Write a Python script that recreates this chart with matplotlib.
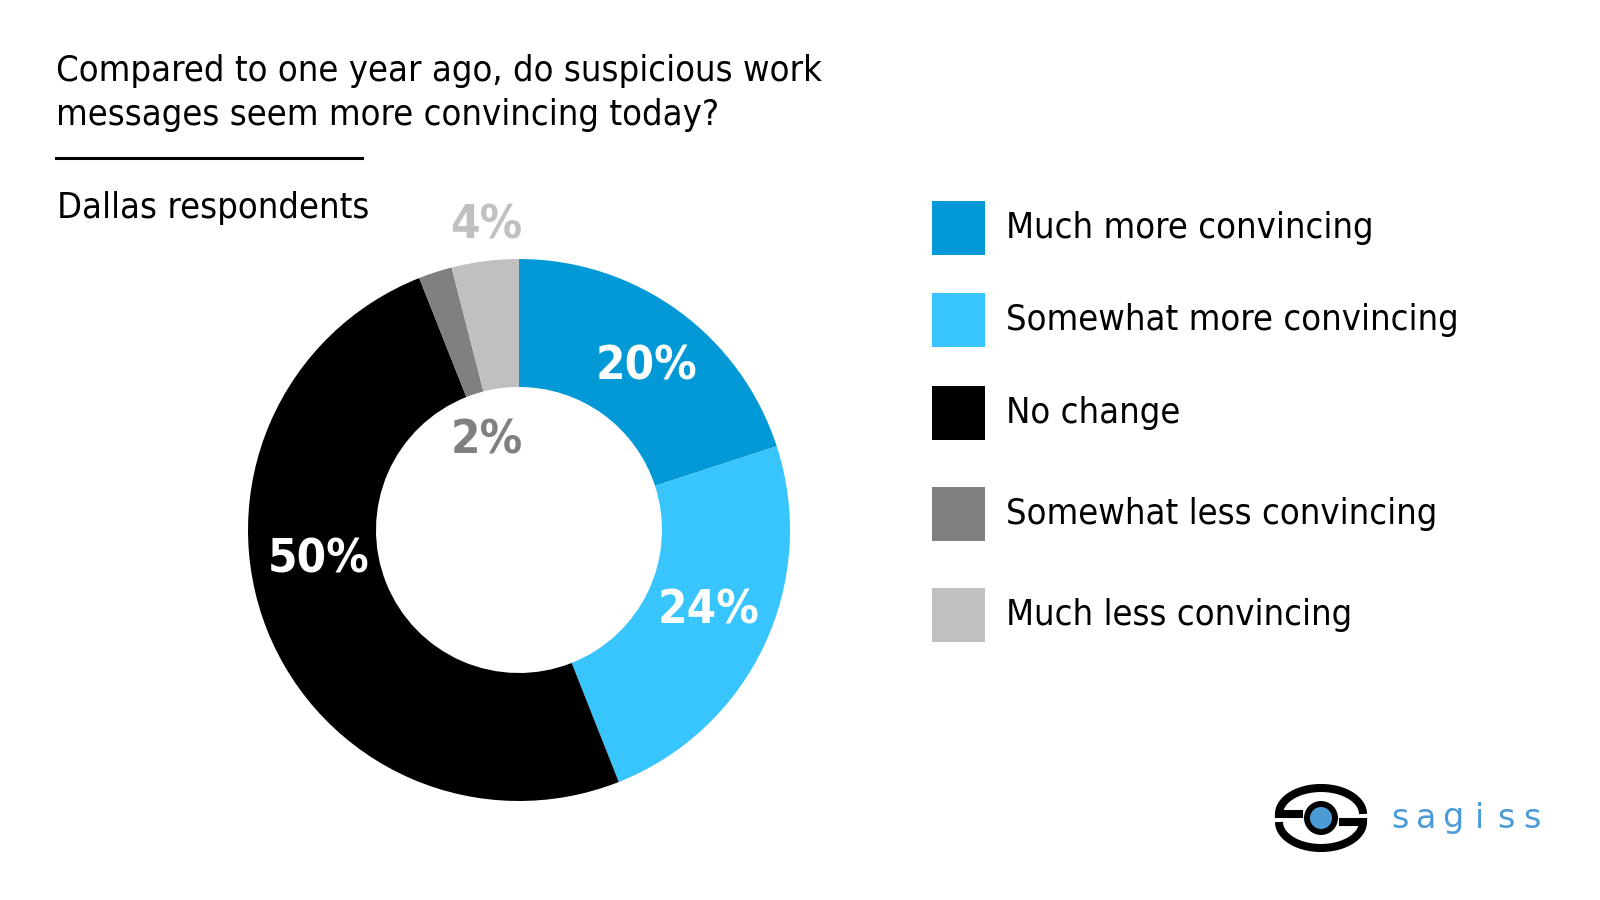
import numpy as np
import matplotlib
matplotlib.use('Agg')
import matplotlib.pyplot as plt
from matplotlib.patches import Circle, Rectangle

# data
categories = ['Much more convincing', 'Somewhat more convincing', 'No change',
              'Somewhat less convincing', 'Much less convincing']
values = [20, 24, 50, 2, 4]
colors = ['#0398D6', '#38C4FC', '#000000', '#808080', '#C0C0C0']
label_colors = ['white', 'white', 'white', '#808080', '#C0C0C0']
# label spots inside pie axes (data units, radius = 1)
label_xy = [(0.47, 0.60), (0.70, -0.30), (-0.74, -0.11), (-0.12, 0.33), (-0.12, 1.12)]

W, H = 1600, 900
FONT = dict(family='DejaVu Sans', stretch='condensed')
FS = 26

fig = plt.figure(figsize=(16, 9), dpi=100)
fig.patch.set_facecolor('white')

# title block
fig.text(56 / W, 1 - 71 / H, 'Compared to one year ago, do suspicious work',
         fontsize=FS, va='center', ha='left', **FONT)
fig.text(56 / W, 1 - 115 / H, 'messages seem more convincing today?',
         fontsize=FS, va='center', ha='left', **FONT)
fig.add_artist(plt.Line2D([56 / W, 362 / W], [1 - 158 / H, 1 - 158 / H],
                          color='black', lw=2.2))
fig.text(57 / W, 1 - 208 / H, 'Dallas respondents', fontsize=FS,
         va='center', ha='left', **FONT)

# donut
cx, cy, R, r_in = 519, 530, 271, 143
ax = fig.add_axes([(cx - R) / W, (H - cy - R) / H, 2 * R / W, 2 * R / H])
ax.pie(values, colors=colors, startangle=90, counterclock=False, radius=1,
       wedgeprops=dict(width=1 - r_in / R, edgecolor='none'))
ax.set_xlim(-1, 1)
ax.set_ylim(-1, 1)
ax.set_aspect('equal')
ax.axis('off')
for v, (x, y), c in zip(values, label_xy, label_colors):
    ax.text(x, y, f'{v}%', color=c, fontsize=34, fontweight='bold',
            ha='center', va='center', clip_on=False, **FONT)

# legend
rows_y = [228, 320, 413, 514, 615]
for cat, c, y in zip(categories, colors, rows_y):
    fig.add_artist(Rectangle((932 / W, 1 - (y + 27) / H), 53 / W, 54 / H,
                             transform=fig.transFigure, color=c, lw=0))
    fig.text(1006 / W, 1 - y / H, cat, fontsize=FS, va='center', ha='left', **FONT)

# logo (pixel units, y up)
lx = fig.add_axes([1265 / W, 1 - 855 / H, 110 / W, 75 / H])
lx.set_xlim(0, 110)
lx.set_ylim(0, 75)
lx.axis('off')
t = np.linspace(0, np.pi, 60)
top_x = np.concatenate([56 + 42 * np.cos(t), [38]])
top_y = np.concatenate([41 + 26 * np.sin(t), [41]])
lx.plot(top_x, top_y, color='black', lw=5.8, solid_joinstyle='miter',
        solid_capstyle='butt')
t2 = np.linspace(np.pi, 2 * np.pi, 60)
bot_x = np.concatenate([56 + 42 * np.cos(t2), [74]])
bot_y = np.concatenate([33 + 26 * np.sin(t2), [33]])
lx.plot(bot_x, bot_y, color='black', lw=5.8, solid_joinstyle='miter',
        solid_capstyle='butt')
lx.add_patch(Circle((56, 37), 14, facecolor='#4A9BD6', edgecolor='black', lw=4.3))
for i, ch in enumerate('sagiss'):
    fig.text((1400 + i * 26.4) / W, 1 - 818 / H, ch, fontsize=24,
             color='#4A9BD6', va='center', ha='center', family='DejaVu Sans')

fig.savefig('out.png', dpi=100)
